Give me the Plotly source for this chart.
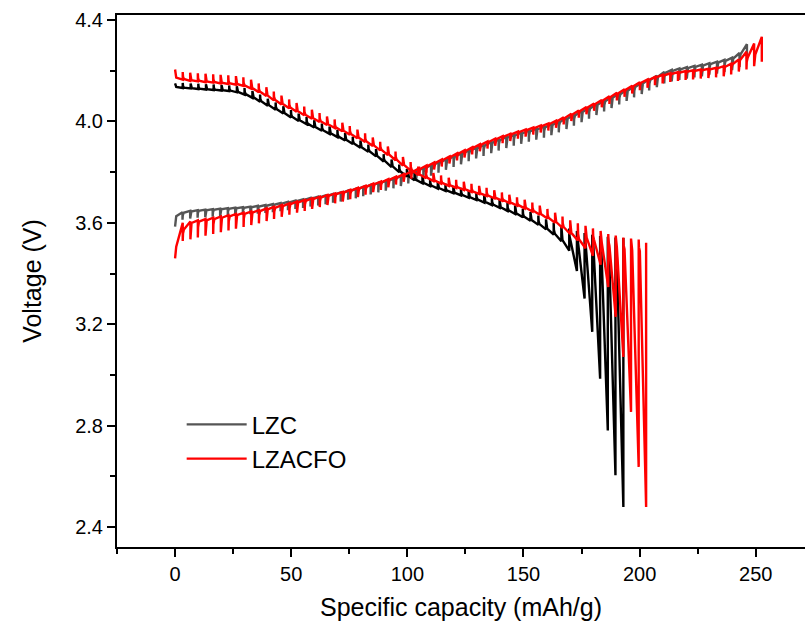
import plotly.graph_objects as go

# ---------------- data ----------------
# LZC, charge: knot capacity (mAh/g), pulse-end voltage, relaxed voltage
lzc_chg_q = [0, 3.2, 6.5, 9.7, 13.0, 16.2, 19.4, 22.7, 25.9, 29.2, 32.4, 35.6, 38.9, 42.1, 45.4, 48.6,
             51.8, 55.1, 58.3, 61.6, 64.8, 68.0, 71.3, 74.5, 77.8, 81.0, 84.2, 87.5, 90.7, 94.0, 97.2,
             100.4, 103.7, 106.9, 110.2, 113.4, 116.6, 119.9, 123.1, 126.4, 129.6, 132.8, 136.1, 139.3,
             142.6, 145.8, 149.0, 152.3, 155.5, 158.8, 162.0, 165.2, 168.5, 171.7, 175.0, 178.2, 181.4,
             184.7, 187.9, 191.2, 194.4, 197.6, 200.9, 204.1, 207.4, 210.6, 213.8, 217.1, 220.3, 223.6,
             226.8, 230.0, 233.3, 236.5, 239.8, 243.0, 246.2]
lzc_chg_p = [3.630, 3.642, 3.647, 3.650, 3.652, 3.654, 3.656, 3.658, 3.660, 3.662, 3.664, 3.667, 3.670,
             3.674, 3.678, 3.683, 3.688, 3.693, 3.698, 3.703, 3.708, 3.714, 3.720, 3.727, 3.734, 3.742,
             3.750, 3.758, 3.766, 3.775, 3.785, 3.795, 3.806, 3.817, 3.828, 3.840, 3.851, 3.863, 3.874,
             3.886, 3.897, 3.908, 3.919, 3.929, 3.939, 3.948, 3.956, 3.964, 3.972, 3.980, 3.990, 4.001,
             4.014, 4.027, 4.041, 4.055, 4.069, 4.083, 4.097, 4.111, 4.125, 4.139, 4.153, 4.167, 4.180,
             4.195, 4.203, 4.209, 4.214, 4.219, 4.224, 4.230, 4.236, 4.243, 4.252, 4.270, 4.305]
lzc_chg_r = [3.585, 3.612, 3.617, 3.620, 3.622, 3.624, 3.626, 3.628, 3.630, 3.632, 3.634, 3.636, 3.639,
             3.642, 3.646, 3.650, 3.655, 3.659, 3.664, 3.668, 3.673, 3.679, 3.684, 3.691, 3.697, 3.705,
             3.712, 3.720, 3.727, 3.736, 3.745, 3.755, 3.765, 3.776, 3.786, 3.798, 3.809, 3.820, 3.831,
             3.843, 3.854, 3.864, 3.875, 3.885, 3.895, 3.904, 3.912, 3.920, 3.928, 3.936, 3.946, 3.957,
             3.970, 3.983, 3.997, 4.011, 4.025, 4.039, 4.053, 4.067, 4.081, 4.095, 4.108, 4.122, 4.135,
             4.150, 4.158, 4.164, 4.169, 4.174, 4.178, 4.184, 4.189, 4.195, 4.202, 4.215, 4.245]

# LZC, discharge
lzc_dis_q = [0, 3.3, 6.7, 10.0, 13.3, 16.6, 20.0, 23.3, 26.6, 29.9, 33.3, 36.6, 39.9, 43.3, 46.6, 49.9,
             53.2, 56.6, 59.9, 63.2, 66.5, 69.9, 73.2, 76.5, 79.8, 83.2, 86.5, 89.8, 93.2, 96.5, 99.8,
             103.1, 106.5, 109.8, 113.1, 116.4, 119.8, 123.1, 126.4, 129.7, 133.1, 136.4, 139.7, 143.1,
             146.4, 149.7, 153.0, 156.4, 159.7, 163.0, 166.3, 169.7, 173.0, 176.3, 179.6, 183.0, 186.3,
             189.6, 193.0]
lzc_dis_p = [4.135, 4.132, 4.130, 4.128, 4.126, 4.124, 4.122, 4.120, 4.115, 4.106, 4.093, 4.078, 4.062,
             4.046, 4.031, 4.016, 4.002, 3.989, 3.976, 3.963, 3.951, 3.938, 3.925, 3.911, 3.896, 3.880,
             3.862, 3.842, 3.820, 3.800, 3.783, 3.768, 3.756, 3.745, 3.735, 3.726, 3.717, 3.708, 3.699,
             3.690, 3.680, 3.670, 3.659, 3.647, 3.635, 3.622, 3.608, 3.592, 3.574, 3.553, 3.527, 3.490,
             3.410, 3.301, 3.170, 2.985, 2.781, 2.604, 2.479]
lzc_dis_r = [4.150, 4.152, 4.150, 4.149, 4.147, 4.146, 4.144, 4.142, 4.139, 4.132, 4.120, 4.106, 4.090,
             4.075, 4.060, 4.045, 4.031, 4.018, 4.005, 3.992, 3.980, 3.967, 3.954, 3.940, 3.925, 3.909,
             3.891, 3.871, 3.850, 3.830, 3.812, 3.797, 3.785, 3.774, 3.764, 3.755, 3.746, 3.738, 3.729,
             3.720, 3.711, 3.701, 3.691, 3.680, 3.668, 3.656, 3.643, 3.629, 3.614, 3.600, 3.588, 3.578,
             3.568, 3.560, 3.553, 3.548, 3.545, 3.542, 3.540]

# LZACFO, charge
lzacfo_chg_q = [0, 3.3, 6.6, 9.8, 13.1, 16.4, 19.7, 23.0, 26.2, 29.5, 32.8, 36.1, 39.4, 42.6, 45.9, 49.2,
                52.5, 55.8, 59.0, 62.3, 65.6, 68.9, 72.2, 75.4, 78.7, 82.0, 85.3, 88.6, 91.8, 95.1, 98.4,
                101.7, 105.0, 108.2, 111.5, 114.8, 118.1, 121.4, 124.6, 127.9, 131.2, 134.5, 137.8, 141.0,
                144.3, 147.6, 150.9, 154.2, 157.4, 160.7, 164.0, 167.3, 170.6, 173.8, 177.1, 180.4, 183.7,
                187.0, 190.2, 193.5, 196.8, 200.1, 203.4, 206.6, 209.9, 213.2, 216.5, 219.8, 223.0, 226.3,
                229.6, 232.9, 236.2, 239.4, 242.7, 246.0, 249.3, 252.6]
lzacfo_chg_p = [3.585, 3.600, 3.605, 3.610, 3.615, 3.620, 3.625, 3.630, 3.635, 3.640, 3.645, 3.650, 3.657,
                3.663, 3.670, 3.677, 3.684, 3.690, 3.697, 3.703, 3.710, 3.716, 3.722, 3.730, 3.738, 3.746,
                3.755, 3.763, 3.772, 3.782, 3.792, 3.803, 3.815, 3.826, 3.838, 3.850, 3.862, 3.874, 3.886,
                3.898, 3.910, 3.921, 3.932, 3.942, 3.951, 3.960, 3.968, 3.976, 3.984, 3.992, 4.003, 4.016,
                4.030, 4.043, 4.057, 4.071, 4.085, 4.099, 4.113, 4.127, 4.141, 4.155, 4.166, 4.176, 4.184,
                4.190, 4.195, 4.199, 4.202, 4.205, 4.208, 4.212, 4.218, 4.228, 4.245, 4.275, 4.308, 4.334]
lzacfo_chg_r = [3.460, 3.528, 3.535, 3.542, 3.549, 3.556, 3.563, 3.570, 3.577, 3.584, 3.591, 3.598, 3.607,
                3.615, 3.624, 3.632, 3.640, 3.647, 3.655, 3.662, 3.670, 3.677, 3.684, 3.693, 3.702, 3.711,
                3.721, 3.730, 3.740, 3.751, 3.762, 3.774, 3.787, 3.798, 3.810, 3.822, 3.834, 3.846, 3.858,
                3.870, 3.882, 3.893, 3.904, 3.914, 3.923, 3.932, 3.940, 3.948, 3.956, 3.964, 3.975, 3.988,
                4.002, 4.015, 4.028, 4.042, 4.056, 4.069, 4.083, 4.097, 4.110, 4.123, 4.133, 4.143, 4.150,
                4.156, 4.160, 4.164, 4.166, 4.169, 4.171, 4.174, 4.178, 4.185, 4.197, 4.205, 4.218, 4.236]

# LZACFO, discharge
lzacfo_dis_q = [0, 3.3, 6.5, 9.8, 13.1, 16.4, 19.6, 22.9, 26.2, 29.4, 32.7, 36.0, 39.3, 42.5, 45.8, 49.1,
                52.3, 55.6, 58.9, 62.2, 65.4, 68.7, 72.0, 75.2, 78.5, 81.8, 85.1, 88.3, 91.6, 94.9, 98.1,
                101.4, 104.7, 108.0, 111.2, 114.5, 117.8, 121.0, 124.3, 127.6, 130.9, 134.1, 137.4, 140.7,
                143.9, 147.2, 150.5, 153.8, 157.0, 160.3, 163.6, 166.8, 170.1, 173.4, 176.7, 179.9, 183.2,
                186.5, 189.7, 193.0, 196.3, 199.6, 202.8]
lzacfo_dis_p = [4.170, 4.165, 4.160, 4.158, 4.155, 4.153, 4.150, 4.148, 4.145, 4.140, 4.130, 4.115, 4.100,
                4.083, 4.067, 4.052, 4.038, 4.024, 4.011, 3.998, 3.986, 3.974, 3.961, 3.948, 3.934, 3.919,
                3.903, 3.886, 3.867, 3.847, 3.826, 3.806, 3.789, 3.776, 3.765, 3.755, 3.746, 3.738, 3.730,
                3.722, 3.714, 3.706, 3.697, 3.688, 3.678, 3.668, 3.657, 3.645, 3.632, 3.617, 3.600, 3.580,
                3.556, 3.530, 3.500, 3.470, 3.435, 3.347, 3.229, 3.071, 2.854, 2.637, 2.479]
lzacfo_dis_r = [4.205, 4.195, 4.192, 4.190, 4.188, 4.186, 4.184, 4.182, 4.179, 4.174, 4.165, 4.150, 4.135,
                4.118, 4.102, 4.087, 4.073, 4.059, 4.046, 4.033, 4.020, 4.008, 3.995, 3.982, 3.968, 3.953,
                3.937, 3.920, 3.901, 3.881, 3.860, 3.840, 3.822, 3.808, 3.797, 3.787, 3.778, 3.770, 3.762,
                3.754, 3.746, 3.738, 3.729, 3.720, 3.711, 3.701, 3.691, 3.680, 3.668, 3.655, 3.640, 3.625,
                3.610, 3.598, 3.588, 3.578, 3.568, 3.556, 3.550, 3.542, 3.538, 3.534, 3.521]

series_names = ["LZC", "LZACFO"]
x_ticks = [0, 50, 100, 150, 200, 250]
y_ticks = [2.4, 2.8, 3.2, 3.6, 4.0, 4.4]


# ---------------- build GITT step paths ----------------
def gitt_path(q, p, r):
    """Relaxed point at each knot, quick polarisation step, pulse to next knot, vertical relaxation."""
    xs, ys = [q[0]], [r[0]]
    for k in range(1, len(q)):
        qa, ra, pa = q[k - 1], r[k - 1], p[k - 1]
        d = pa - ra
        if abs(d) > 0.07:
            d = 0.05 if d > 0 else -0.05
        xs += [qa + 0.12, qa + 0.5, q[k], q[k]]
        ys += [ra + 0.6 * d, ra + 0.92 * d, p[k], r[k]]
    return xs, ys


FONT = "Liberation Sans, Arial, sans-serif"
fig = go.Figure()

traces = [
    (lzc_chg_q, lzc_chg_p, lzc_chg_r, "#555555", series_names[0], True),
    (lzc_dis_q, lzc_dis_p, lzc_dis_r, "#000000", series_names[0], False),
    (lzacfo_chg_q, lzacfo_chg_p, lzacfo_chg_r, "#ff0000", series_names[1], True),
    (lzacfo_dis_q, lzacfo_dis_p, lzacfo_dis_r, "#ff0000", series_names[1], False),
]
for q, p, r, col, name, show in traces:
    xs, ys = gitt_path(q, p, r)
    fig.add_trace(go.Scatter(x=xs, y=ys, mode="lines", name=name, legendgroup=name,
                             showlegend=show, line=dict(color=col, width=2.4)))

axis_common = dict(
    showgrid=False, zeroline=False, showline=True, linecolor="black", linewidth=2,
    ticks="outside", ticklen=8, tickwidth=2, tickcolor="black",
    tickfont=dict(family=FONT, size=20, color="black"),
)
fig.update_xaxes(
    range=[-25, 271.2], tickvals=x_ticks, mirror=True,
    minor=dict(ticks="outside", dtick=25, tick0=0, ticklen=5, tickwidth=2, tickcolor="black"),
    title=dict(text="Specific capacity (mAh/g)", font=dict(family=FONT, size=25, color="black"),
               standoff=14),
    **axis_common,
)
fig.update_yaxes(
    range=[2.321, 4.42], tickvals=y_ticks, tickformat=".1f", mirror=False,
    minor=dict(ticks="outside", dtick=0.2, tick0=2.4, ticklen=5, tickwidth=2, tickcolor="black"),
    title=dict(text="Voltage (V)", font=dict(family=FONT, size=25, color="black"), standoff=26),
    **axis_common,
)
fig.update_layout(
    width=805, height=634,
    margin=dict(l=117, r=0, t=15, b=87),
    paper_bgcolor="white", plot_bgcolor="white",
    font=dict(family=FONT, color="black"),
    legend=dict(x=0.094, y=0.272, xanchor="left", yanchor="top", bgcolor="rgba(0,0,0,0)",
                font=dict(family=FONT, size=24, color="black"), itemwidth=60, tracegroupgap=0),
)

fig.write_html("out.html")
